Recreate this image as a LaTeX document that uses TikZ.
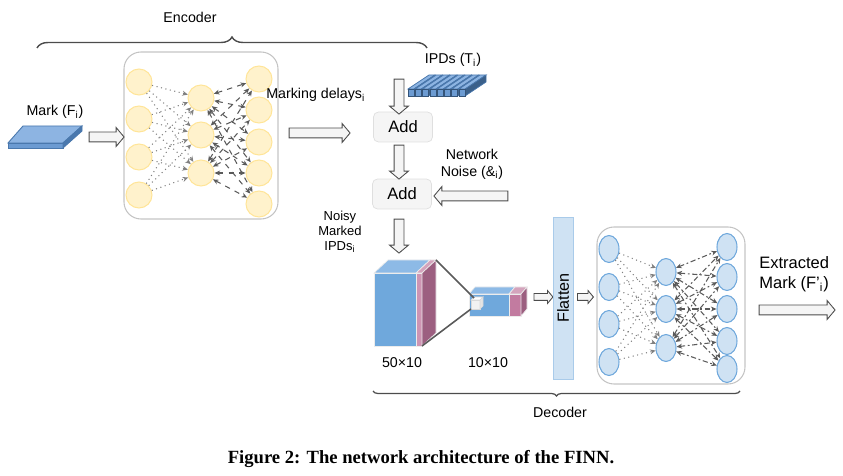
\documentclass[tikz,border=0pt]{standalone}
\usepackage{fontspec}
\setmainfont{Liberation Sans}
\newfontfamily\capfont{Liberation Serif}
\usetikzlibrary{arrows.meta,shapes.geometric,shapes.arrows,decorations.pathreplacing}

\definecolor{encfill}{HTML}{FFF2CC}
\definecolor{encline}{HTML}{FFE599}
\definecolor{decfill}{HTML}{CFE2F3}
\definecolor{decline}{HTML}{6FA8DC}
\definecolor{boxline}{HTML}{C4C4C4}
\definecolor{cubeblue}{HTML}{6FA8DC}
\definecolor{cubetop}{HTML}{8DBAE6}
\definecolor{cubepink}{HTML}{C27BA0}
\definecolor{cubeside}{HTML}{9C5F80}
\definecolor{slabfront}{HTML}{6C9BD2}
\definecolor{slabtop}{HTML}{8DB4E2}
\definecolor{slabline}{HTML}{4A78AD}
\definecolor{edgegray}{HTML}{5A5A5A}

\tikzset{
  encnode/.style={circle,fill=encfill,draw=encline,line width=0.6pt,minimum size=0.52cm,inner sep=0pt},
  decnode/.style={ellipse,fill=decfill,draw=decline,line width=0.6pt,minimum width=0.4cm,minimum height=0.54cm,inner sep=0pt},
  netbox/.style={draw=boxline,rounded corners=0.34cm,line width=0.6pt},
  addbox/.style={draw=gray!25,fill=gray!8,rounded corners=0.1cm,minimum width=1.18cm,minimum height=0.6cm,font=\fontsize{9.4}{11}\selectfont},
  hollow/.style={single arrow,draw=gray!60!black,fill=gray!8,line width=0.5pt,inner sep=0.09cm,single arrow head extend=0.09cm,single arrow tip angle=100},
  thinarrow/.style={hollow,inner sep=0.06cm,single arrow head extend=0.06cm},
  dotline/.style={draw=gray,dotted,line width=0.6pt,-{Stealth[length=3.2pt,width=2.8pt]}},
  dashline/.style={draw=edgegray,dashed,line width=0.6pt,{Stealth[length=3.2pt,width=2.8pt]}-{Stealth[length=3.2pt,width=2.8pt]}},
  dashdotline/.style={draw=edgegray,dash pattern=on 3pt off 1.5pt on 1pt off 1.5pt,line width=0.6pt,{Stealth[length=3.2pt,width=2.8pt]}-{Stealth[length=3.2pt,width=2.8pt]}},
  lbl/.style={font=\fontsize{8.1}{9.6}\selectfont,inner sep=0pt},
  brc/.style={draw=gray!60!black,line width=0.8pt,decorate},
  face/.style={draw=gray!15,line width=0.4pt}
}

\begin{document}
\begin{tikzpicture}[x=0.02cm,y=-0.02cm]
\useasboundingbox (0,0) rectangle (843,476);

% encoder
\node[lbl] (enctext) at (190,17) {Encoder};
\draw[brc,decoration={brace,amplitude=0.22cm}] (37,48) -- (427,48);
\draw[netbox] (124,52) rectangle (278,219);
\foreach \y [count=\i] in {82,119,157,195} \node[encnode] (ea\i) at (139,\y) {};
\foreach \y [count=\i] in {98,135,173} \node[encnode] (eb\i) at (201,\y) {};
\foreach \y [count=\i] in {79,110,142,173,204} \node[encnode] (ec\i) at (259,\y) {};
\foreach \i in {1,...,4} \foreach \j in {1,...,3} \draw[dotline] (ea\i) -- (eb\j);
\foreach \j in {1,...,3} \foreach \k in {1,...,5} \draw[dashline] (eb\j) -- (ec\k);

% mark slab
\fill[slabtop,draw=slabline,line width=0.5pt] (8,143) -- (23,126) -- (82,126) -- (63,143) -- cycle;
\fill[slabfront,draw=slabline,line width=0.5pt] (8,143) rectangle (63,148);
\fill[slabline,draw=slabline,line width=0.5pt] (63,143) -- (82,126) -- (82,131) -- (63,148) -- cycle;
\node[lbl] (marktext) at (55,112) {Mark (F\textsubscript{i})};
\node[hollow,minimum height=0.7cm] (arrmark) at (104.5,137) {};

\node[lbl,anchor=west] (delaytext) at (266,95) {Marking delays\textsubscript{i}};
\node[hollow,minimum height=1.22cm] (arrdelay) at (317.5,133) {};

% ipds
\node[lbl] (ipdtext) at (453,60) {IPDs (T\textsubscript{i})};
\foreach \k in {0,...,7}{
  \pgfmathsetmacro{\xa}{408+7.3*\k}
  \fill[slabtop,draw=slabline,line width=0.4pt] (\xa,89) -- (\xa+21,75) -- (\xa+27,75) -- (\xa+6,89) -- cycle;
  \fill[slabline!80!black,draw=slabline,line width=0.4pt] (\xa+6,89) -- (\xa+27,75) -- (\xa+27,82) -- (\xa+6,96) -- cycle;
  \fill[slabfront,draw=slabline!70!black,line width=0.4pt] (\xa,89) rectangle (\xa+6,96);
}

% add boxes
\node[addbox] (add1) at (403,127) {Add};
\node[addbox] (add2) at (402,194) {Add};
\node[hollow,shape border rotate=270,minimum height=0.7cm] (arrdown1) at (399,94.5) {};
\node[hollow,shape border rotate=270,minimum height=0.68cm] (arrdown2) at (399,160) {};
\node[hollow,shape border rotate=270,minimum height=0.68cm] (arrdown3) at (399,234) {};
\node[lbl,align=center] (noisetext) at (472,164) {Network\\Noise (\&\textsubscript{i})};
\node[hollow,shape border rotate=180,minimum height=1.48cm] (arrnoise) at (473,196) {};
\node[lbl,align=center,font=\fontsize{7.4}{8.6}\selectfont] (noisytext) at (340,232) {Noisy\\Marked\\IPDs\textsubscript{i}};

% conv blocks
\fill[cubetop,draw=gray!15] (374,273) -- (388,260) -- (430,260) -- (416,273) -- cycle;
\fill[cubeblue,draw=gray!15] (374,273) rectangle (416,346);
\fill[cubepink!70!white,draw=gray!15] (416,273) -- (430,260) -- (436,260) -- (422,273) -- cycle;
\fill[cubepink!80!white,draw=gray!15] (416,273) rectangle (422,346);
\fill[cubeside,draw=gray!15] (422,273) -- (436,260) -- (436,333) -- (422,346) -- cycle;
\coordinate (bigtop) at (436,260);
\coordinate (bigbot) at (422,346);

\fill[cubetop,draw=gray!15] (469,294) -- (475,287) -- (515,287) -- (509,294) -- cycle;
\fill[cubeblue,draw=gray!15] (469,294) rectangle (509,316);
\fill[cubepink!70!white,draw=gray!15] (509,294) -- (515,287) -- (527,287) -- (521,294) -- cycle;
\fill[cubepink,draw=gray!15] (509,294) rectangle (521,316);
\fill[cubeside,draw=gray!15] (521,294) -- (527,287) -- (527,309) -- (521,316) -- cycle;
\fill[gray!10,draw=gray!30] (471,300) rectangle (480,309);
\fill[white,draw=gray!30] (471,300) -- (474,297) -- (483,297) -- (480,300) -- cycle;
\fill[gray!20,draw=gray!30] (480,300) -- (483,297) -- (483,306) -- (480,309) -- cycle;
\coordinate (cubetl) at (474,298);
\coordinate (cubebl) at (471,309);
\draw[edgegray,line width=0.9pt] (bigtop) -- (cubetl);
\draw[edgegray,line width=0.9pt] (bigbot) -- (cubebl);
\node[lbl] (size1) at (402,363) {50×10};
\node[lbl] (size2) at (488,363) {10×10};

% flatten
\node[thinarrow,minimum height=0.38cm] (arrflat1) at (542,297) {};
\node[draw=decline!60,fill=decfill,minimum width=0.4cm,minimum height=3.24cm,inner sep=0pt] (flatten) at (563,298) {};
\node[lbl,rotate=90,font=\fontsize{9.2}{11}\selectfont] (flattext) at (flatten) {Flatten};
\node[thinarrow,minimum height=0.32cm] (arrflat2) at (584,297) {};

% decoder
\draw[netbox] (597,227) rectangle (745,384);
\foreach \y [count=\i] in {249,287,324,362} \node[decnode] (da\i) at (609,\y) {};
\foreach \y [count=\i] in {272,309,348} \node[decnode] (db\i) at (666,\y) {};
\foreach \y [count=\i] in {247,277,309,341,369} \node[decnode] (dc\i) at (727,\y) {};
\foreach \i in {1,...,4} \foreach \j in {1,...,3} \draw[dotline] (da\i) -- (db\j);
\foreach \j in {1,...,3} \foreach \k in {1,...,5} \draw[dashdotline] (db\j) -- (dc\k);
\draw[brc,line width=0.7pt,decoration={brace,amplitude=0.1cm}] (740,391) -- (373,391);
\node[lbl] (dectext) at (560,412) {Decoder};

\node[lbl,align=left,anchor=west,font=\fontsize{9.4}{11.2}\selectfont] (outtext) at (759,274) {Extracted\\Mark (F'\textsubscript{i})};
\node[hollow,minimum height=1.52cm] (arrout) at (795,310) {};

\node[font=\capfont\bfseries\fontsize{10.6}{12}\selectfont] (caption) at (421,459) {Figure 2: The network architecture of the FINN.};
\end{tikzpicture}
\end{document}
